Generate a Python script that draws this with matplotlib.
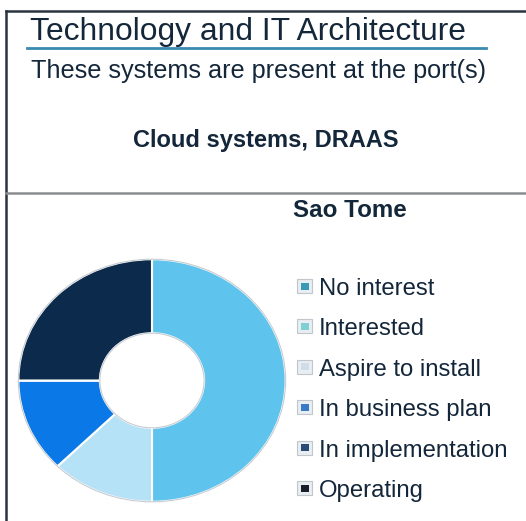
import matplotlib.pyplot as plt
from matplotlib.patches import Rectangle, Circle
from matplotlib.lines import Line2D

# dati
categories = ["No interest", "Interested", "Aspire to install",
              "In business plan", "In implementation", "Operating"]
counts = [0, 4, 1, 1, 0, 2]
slice_colors = ["#3a9ab5", "#5ec4ee", "#b5e2f6", "#0a78e6", "#1d4a7a", "#0b2a4c"]
legend_colors = ["#3a9ab5", "#7fd0d5", "#d0dde8", "#3a78c8", "#2a4a78", "#1a1e2a"]

W, H = 526, 521
plt.rcParams['font.family'] = ['Liberation Sans', 'DejaVu Sans']
txt = '#13263a'

fig = plt.figure(figsize=(W / 100, H / 100), dpi=100)

def fx(x):
    return x / W

def fy(y):
    return 1 - y / H

# cornice
fig.add_artist(Line2D([fx(6), fx(6)], [fy(11), fy(521)], color='#2a3440', lw=1.8))
fig.add_artist(Line2D([fx(6), fx(526)], [fy(11), fy(11)], color='#2a3440', lw=1.8))
fig.add_artist(Line2D([fx(6), fx(526)], [fy(193), fy(193)], color='#8a8d90', lw=1.8))
fig.add_artist(Line2D([fx(27), fx(486)], [fy(48), fy(48)], color='#3a8ab0', lw=2))

# titoli
fig.text(fx(30), fy(40), "Technology and IT Architecture", fontsize=22.9,
         color=txt, ha='left', va='baseline')
fig.text(fx(31), fy(78), "These systems are present at the port(s)", fontsize=18.2,
         color=txt, ha='left', va='baseline')
fig.text(fx(266), fy(147), "Cloud systems, DRAAS", fontsize=17, fontweight='bold',
         color=txt, ha='center', va='baseline')
fig.text(fx(350), fy(217), "Sao Tome", fontsize=17.4, fontweight='bold',
         color=txt, ha='center', va='baseline')

# ciambella (leggermente ellittica come nell'originale)
ax = fig.add_axes([fx(17), fy(503), (287 - 17) / W, (503 - 258) / H])
ax.pie(counts, colors=slice_colors, startangle=90, counterclock=False, radius=1,
       wedgeprops=dict(width=0.61, edgecolor='white', linewidth=1.5))
ax.add_patch(Circle((0, 0), 1.0, fill=False, edgecolor='#c8ccd0', lw=0.8))
ax.add_patch(Circle((0, 0), 0.39, fill=False, edgecolor='#c8ccd0', lw=0.8))
ax.set_aspect('auto')
ax.set_xlim(-1.01, 1.01)
ax.set_ylim(-1.01, 1.01)
ax.axis('off')

# legenda
y0, dy = 286, 40.4
for i, (lab, col) in enumerate(zip(categories, legend_colors)):
    yc = y0 + dy * i
    fig.add_artist(Rectangle((fx(297), fy(yc + 7)), 15 / W, 14 / H,
                             transform=fig.transFigure, facecolor='#e8eef2',
                             edgecolor='#c0c6cc', lw=0.8))
    fig.add_artist(Rectangle((fx(300.5), fy(yc + 3.5)), 8 / W, 7 / H,
                             transform=fig.transFigure, facecolor=col, lw=0))
    fig.text(fx(319), fy(yc + 9), lab, fontsize=17.2, color=txt,
             ha='left', va='baseline')

fig.savefig("out.png", dpi=100)
